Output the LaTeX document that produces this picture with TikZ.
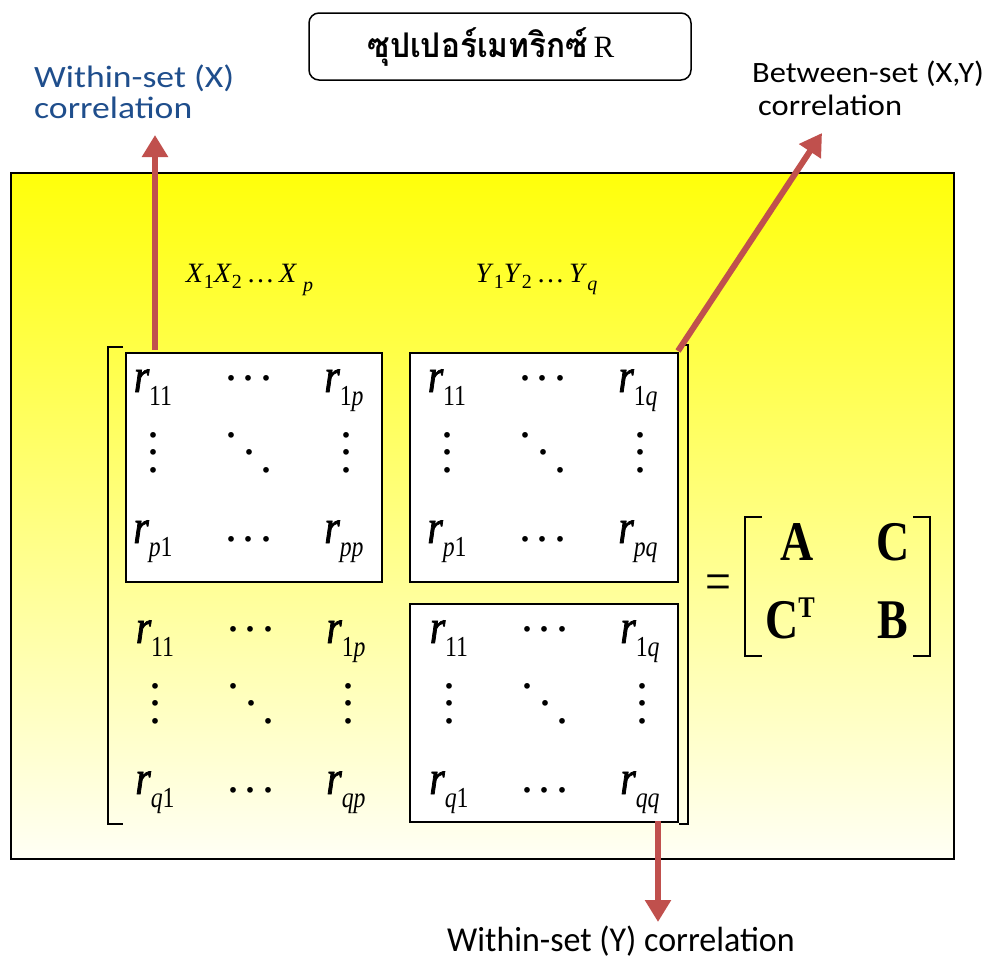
\documentclass[tikz,border=0pt]{standalone}
\usepackage{fontspec}
\setmainfont{Liberation Serif}
\newfontfamily\thaifont{Loma}[Script=Thai,FakeStretch=0.93,NFSSFamily=mythai]
\newfontfamily\mserif{Liberation Serif}[FakeStretch=0.82,NFSSFamily=mynarrowserif]
\newfontfamily\rfam{Liberation Serif}[FakeStretch=0.82,FakeBold=1.6,NFSSFamily=myrfam]
\newfontfamily\calwide{Carlito}[FakeStretch=1.15,NFSSFamily=mycalB]
\newfontfamily\calmid{Carlito}[FakeStretch=1.1,NFSSFamily=mycalC]
\newfontfamily\calnar{Carlito}[FakeStretch=0.97,NFSSFamily=mycalD]
\usetikzlibrary{arrows.meta}
\definecolor{redarr}{RGB}{192,80,77}
\definecolor{bluetxt}{RGB}{31,78,140}
\definecolor{ytop}{RGB}{255,255,10}
\definecolor{ybot}{RGB}{255,255,245}
\newcommand{\rent}[1]{{\rfam\fontsize{48}{48}\selectfont\itshape r}{\mserif\raisebox{-13pt}{\fontsize{29}{29}\selectfont #1}}}
\newcommand{\xlab}[2]{\textit{#1}\raisebox{-6.5pt}{\fontsize{20}{20}\selectfont #2}}
\newcommand{\hdots}{.\kern5.5pt.\kern5.5pt.}
\newcommand{\vrdots}{\vbox{\baselineskip=17.5pt\lineskiplimit=-100pt\lineskip=0pt\hbox{.}\hbox{.}\hbox{.}}}
\newcommand{\dgdots}{\raisebox{35pt}{.}\kern5.5pt\raisebox{17.5pt}{.}\kern5.5pt.}
\newcommand{\blk}[5]{%
  \node[ent] (#1a) at (0,0) {\rent{#2}};
  \node[dt] (#1b) at (96,-11.8) {\hdots};
  \node[ent] (#1c) at (191,0) {\rent{#3}};
  \node[dt] (#1d) at (0,80.2) {\vrdots};
  \node[dt] (#1e) at (96,80.2) {\dgdots};
  \node[dt] (#1f) at (193,80.2) {\vrdots};
  \node[ent] (#1g) at (0,151) {\rent{#4}};
  \node[dt] (#1h) at (96,149.2) {\hdots};
  \node[ent] (#1i) at (191,151) {\rent{#5}};
}
\begin{document}
\begin{tikzpicture}[x=1pt,y=-1pt,
  ent/.style={inner sep=0pt,anchor=base},
  dt/.style={inner sep=0pt,anchor=base,font=\rmfamily\fontsize{48}{48}\selectfont},
  wbox/.style={draw,fill=white,line width=1.5pt,inner sep=0pt,anchor=north west},
  redarrow/.style={draw=redarr,line width=6pt,-{Triangle[width=25pt,length=22pt]}},
  brk/.style={line width=2.5pt},
  mtx/.style={inner sep=0pt,anchor=base,font=\mserif\bfseries\fontsize{56}{56}\selectfont},
  collab/.style={inner sep=0pt,anchor=base,font=\rmfamily\fontsize{28}{28}\selectfont}
]
\useasboundingbox (0,0) rectangle (986,959);
% panel
\node[draw,line width=1.8pt,top color=ytop,bottom color=ybot,minimum width=943pt,minimum height=686pt,inner sep=0pt,anchor=north west] (panel) at (10,172) {};
% title
\node[draw,line width=1.5pt,rounded corners=10pt,minimum width=382pt,minimum height=67pt,inner sep=0pt] (title) at (500,46.5) {};
\node[inner sep=0pt] (titletext) at (491,47)
  {\fontsize{34}{38}\selectfont{\thaifont\bfseries ซุปเปอร์เมทริกซ์}\,{\fontsize{31}{36}\selectfont R}};
% boxes
\node[wbox,minimum width=256pt,minimum height=229pt] (Abox) at (125,352) {};
\node[wbox,minimum width=268pt,minimum height=229pt] (Cbox) at (409,352) {};
\node[wbox,minimum width=268pt,minimum height=218pt] (Bbox) at (409,603) {};
% outer brackets
\coordinate (lbt) at (123,347);
\coordinate (lbb) at (123,824);
\coordinate (rbt) at (679,345);
\coordinate (rbb) at (679,824);
\draw[brk] (lbt) -- (108,347) -- (108,824) -- (lbb);
\draw[brk] (rbt) -- (688,345) -- (688,824) -- (rbb);
% blocks
\begin{scope}[shift={(153,392)}]\blk{tl}{11}{1\textit{p}}{\textit{p}1}{\textit{pp}}\end{scope}
\begin{scope}[shift={(447,392)}]\blk{tr}{11}{1\textit{q}}{\textit{p}1}{\textit{pq}}\end{scope}
\begin{scope}[shift={(155,643)}]\blk{bl}{11}{1\textit{p}}{\textit{q}1}{\textit{qp}}\end{scope}
\begin{scope}[shift={(449,643)}]\blk{br}{11}{1\textit{q}}{\textit{q}1}{\textit{qq}}\end{scope}
% column labels
\node[collab] (xlab) at (249.5,282)
  {\xlab{X}{1}\xlab{X}{2}\,…\,\textit{X}\kern6pt\raisebox{-9pt}{\fontsize{20}{20}\selectfont\textit{p}}};
\node[collab] (ylab) at (536.5,282)
  {\xlab{Y}{1}\xlab{Y}{2}\,…\,\textit{Y}\raisebox{-8pt}{\fontsize{20}{20}\selectfont\textit{q}}};
% right side
\node[inner sep=0pt,anchor=base,font=\mserif\fontsize{56}{56}\selectfont] (eq) at (718,600) {=};
\draw[brk,line width=2.8pt] (762,517) -- (745,517) -- (745,656) -- (762,656);
\draw[brk,line width=2.8pt] (913,517) -- (930,517) -- (930,656) -- (913,656);
\node[mtx] (mA) at (797,560) {A};
\node[mtx] (mC) at (893,560) {C};
\node[mtx] (mCT) at (790,638) {C\raisebox{0.37em}{\fontsize{30}{30}\selectfont T}};
\node[mtx] (mB) at (893,638) {B};
% labels
\node[inner sep=0pt,text=bluetxt,align=left,anchor=north west,font=\calwide\fontsize{31}{31}\selectfont] (wx) at (34,65) {Within-set (X)\\correlation};
\node[inner sep=0pt,align=left,anchor=north west,font=\calmid\fontsize{29.5}{33}\selectfont] (bxy) at (752,61) {Between-set (X,Y)\\\hspace{6pt}correlation};
\node[inner sep=0pt,anchor=base west,font=\calnar\fontsize{35}{35}\selectfont] (wy) at (447,951) {Within-set (Y) correlation};
% arrows
\coordinate (axs) at (155,350);
\coordinate (axe) at (155,135);
\coordinate (abs) at (678,351);
\coordinate (abe) at (822,133);
\coordinate (ays) at (658,821);
\coordinate (aye) at (658,922);
\draw[redarrow] (axs) -- (axe);
\draw[redarrow] (abs) -- (abe);
\draw[redarrow] (ays) -- (aye);
\end{tikzpicture}
\end{document}
